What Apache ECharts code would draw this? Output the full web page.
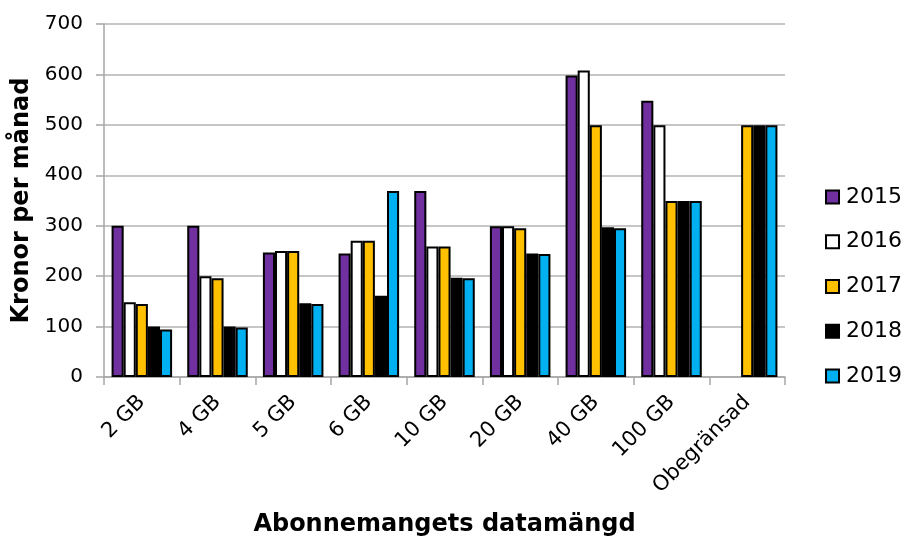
<!DOCTYPE html>
<html><head><meta charset="utf-8">
<script src="https://cdn.jsdelivr.net/npm/echarts@6/dist/echarts.min.js"></script>
<style>html,body{margin:0;padding:0;background:#fff}#c{width:908px;height:538px}</style>
</head><body><div id="c"></div>
<script>
const categories = ['2 GB','4 GB','5 GB','6 GB','10 GB','20 GB','40 GB','100 GB','Obegränsad'];
const years = ['2015','2016','2017','2018','2019'];
const v2015 = [300, 300, 247, 245, 369, 299, 598, 548, null];
const v2016 = [148, 200, 250, 270, 259, 299, 608, 499, null];
const v2017 = [145, 196, 250, 270, 259, 295, 499, 349, 499];
const v2018 = [100, 100, 146, 161, 197, 245, 297, 349, 499];
const v2019 = [94, 98, 145, 369, 196, 244, 295, 349, 499];
const seriesValues = [v2015, v2016, v2017, v2018, v2019];
const colors = ['#7030a0', '#ffffff', '#ffc000', '#000000', '#00b0f0'];

const chart = echarts.init(document.getElementById('c'));
chart.setOption({
  animation: false,
  textStyle: {fontFamily: 'DejaVu Sans'},
  grid: {left: 104, top: 24, right: 123, bottom: 161, containLabel: false, outerBoundsMode: 'none'},
  legend: {
    orient: 'vertical', right: 1, top: 181,
    itemWidth: 13, itemHeight: 13, itemGap: 22.75,
    icon: 'rect',
    textStyle: {fontSize: 22, color: '#000', fontFamily: 'DejaVu Sans', padding: [0,0,0,2]},
    data: years
  },
  xAxis: {
    type: 'category', data: categories,
    name: 'Abonnemangets datamängd', nameLocation: 'middle', nameGap: 136,
    nameTextStyle: {fontSize: 24, fontWeight: 'bold', color: '#000', fontFamily: 'DejaVu Sans'},
    axisLine: {lineStyle: {color: '#a6a6a6', width: 1.5}},
    axisTick: {show: true, alignWithLabel: false, length: 8, lineStyle: {color: '#a6a6a6', width: 1.5}},
    axisLabel: {rotate: 45, fontSize: 21, color: '#000', margin: 22},
    splitLine: {show: false}
  },
  yAxis: {
    type: 'value', min: 0, max: 700, interval: 100,
    name: 'Kronor per månad', nameLocation: 'middle', nameGap: 67,
    nameTextStyle: {fontSize: 24, fontWeight: 'bold', color: '#000'},
    axisLine: {show: true, lineStyle: {color: '#a6a6a6', width: 1.5}},
    axisTick: {show: true, length: 8, lineStyle: {color: '#a6a6a6', width: 1.5}},
    axisLabel: {fontSize: 20, color: '#000', margin: 21},
    splitLine: {lineStyle: {color: '#b3b3b3', width: 1.5}}
  },
  series: years.map((y, i) => ({
    name: y, type: 'bar', data: seriesValues[i],
    barGap: '0%', barCategoryGap: '20%',
    itemStyle: {color: colors[i], borderColor: '#000', borderWidth: 2}
  }))
});
</script></body></html>
